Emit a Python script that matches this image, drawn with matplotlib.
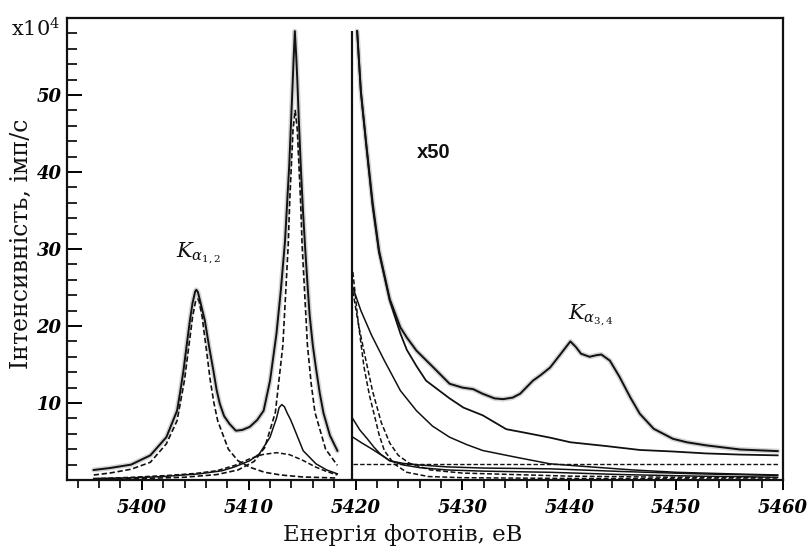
import matplotlib

matplotlib.use("Agg")

import matplotlib.pyplot as plt
from matplotlib.ticker import MultipleLocator, NullFormatter

# Left window: measured counts (x10^4), Ka1,2 region
e_tot_l = [5395.5, 5397.0, 5399.0, 5400.8, 5402.3, 5403.3, 5403.6, 5403.9, 5404.2, 5404.5,
           5404.75, 5405.0, 5405.1, 5405.25, 5405.5, 5405.9, 5406.3, 5406.7, 5407.0, 5407.3,
           5407.7, 5408.2, 5408.8, 5409.4, 5410.1, 5410.8, 5411.4, 5412.0, 5412.6, 5413.0,
           5413.4, 5413.6, 5413.8, 5413.95, 5414.1, 5414.2, 5414.32, 5414.45, 5414.55, 5414.7,
           5414.9, 5415.1, 5415.3, 5415.5, 5415.7, 5416.0, 5416.3, 5416.65, 5417.0, 5417.6,
           5418.3]
i_tot_l = [1.3, 1.55, 2.0, 3.2, 5.56, 9.0, 11.5, 14.2, 17.5, 20.7,
           23.0, 24.5, 24.7, 24.4, 23.0, 20.7, 17.3, 14.2, 11.7, 9.9,
           8.3, 7.3, 6.4, 6.5, 6.9, 7.8, 9.0, 12.9, 19.0, 24.5,
           31.0, 36.0, 41.0, 46.0, 51.0, 54.5, 58.3, 55.0, 52.0, 46.5,
           40.0, 34.5, 29.8, 25.5, 21.5, 17.5, 14.5, 11.3, 8.7, 5.8,
           3.8]

e_ka2 = [5395.5, 5397.0, 5399.0, 5400.8, 5402.3, 5403.3, 5404.0, 5404.3, 5404.6, 5404.75,
         5405.05, 5405.2, 5405.35, 5405.65, 5405.8, 5406.1, 5406.4, 5406.75, 5407.1, 5408.1,
         5409.0, 5410.1, 5411.5, 5413.0, 5415.0, 5418.3]
i_ka2 = [0.65, 0.9, 1.4, 2.3, 4.7, 7.7, 13.0, 16.3, 19.5, 21.2,
         23.3, 23.5, 23.3, 21.2, 19.5, 16.3, 13.0, 10.0, 7.7, 4.0,
         2.5, 1.66, 1.0, 0.65, 0.4, 0.25]

e_ka1 = [5395.5, 5400.0, 5404.0, 5407.0, 5409.0, 5410.5, 5411.5, 5412.5, 5413.2, 5413.45,
         5413.7, 5413.85, 5414.0, 5414.15, 5414.35, 5414.55, 5414.7, 5414.85, 5415.0, 5415.25,
         5415.5, 5415.85, 5416.2, 5417.2, 5418.3]
i_ka1 = [0.11, 0.19, 0.36, 0.7, 1.3, 2.4, 4.2, 8.8, 17.5, 24.0,
         30.5, 36.5, 41.0, 45.5, 48.0, 45.5, 41.0, 36.5, 30.5, 24.0,
         17.5, 12.5, 8.8, 4.0, 1.9]

e_c3 = [5395.5, 5399.0, 5402.0, 5405.4, 5407.5, 5408.6, 5410.1, 5411.0, 5412.0, 5412.3,
        5412.6, 5412.85, 5413.1, 5413.35, 5413.6, 5413.9, 5414.2, 5415.1, 5416.3, 5417.3,
        5418.3]
i_c3 = [0.2, 0.28, 0.45, 0.8, 1.2, 1.66, 2.5, 3.4, 5.56, 6.8,
        8.0, 9.4, 9.8, 9.5, 8.7, 7.9, 6.9, 3.8, 2.1, 1.3,
        0.8]

e_c4 = [5395.5, 5399.0, 5402.3, 5405.0, 5407.0, 5408.7, 5410.1, 5411.3, 5412.6, 5413.8,
        5415.0, 5416.3, 5417.3, 5418.3]
i_c4 = [0.15, 0.35, 0.58, 0.85, 1.2, 1.9, 2.75, 3.3, 3.55, 3.3,
        2.6, 1.66, 1.1, 0.65]

# Right window: counts x50, Ka3,4 satellites
e_tot_r = [5420.15, 5420.5, 5421.0, 5421.6, 5422.2, 5423.2, 5424.2, 5424.8, 5425.7, 5427.3,
           5428.8, 5430.0, 5431.0, 5431.9, 5433.0, 5433.8, 5434.7, 5435.4, 5436.6, 5437.3,
           5438.2, 5439.1, 5440.1, 5440.6, 5441.1, 5441.9, 5442.5, 5443.0, 5443.8, 5444.7,
           5445.7, 5446.6, 5447.9, 5449.7, 5451.0, 5452.8, 5456.0, 5459.5]
i_tot_r = [58.3, 50.5, 43.7, 36.0, 29.8, 23.5, 19.8, 18.5, 16.8, 14.6,
           12.5, 12.0, 11.8, 11.2, 10.6, 10.5, 10.7, 11.2, 12.9, 13.6,
           14.6, 16.2, 18.0, 17.3, 16.4, 16.0, 16.2, 16.3, 15.5, 13.4,
           10.75, 8.6, 6.65, 5.35, 4.9, 4.5, 3.96, 3.75]

e_tail = [5420.15, 5420.5, 5421.0, 5421.6, 5422.2, 5423.2, 5424.2, 5424.8, 5425.7, 5426.6,
          5428.8, 5430.1, 5431.9, 5434.1, 5436.0, 5438.2, 5440.1, 5443.5, 5446.6, 5449.7,
          5452.8, 5456.0, 5459.5]
i_tail = [58.3, 50.3, 43.5, 35.5, 29.5, 23.3, 19.0, 16.9, 14.8, 12.9,
          10.6, 9.4, 8.4, 6.6, 6.1, 5.5, 4.9, 4.4, 3.9, 3.7,
          3.45, 3.3, 3.2]

e_da = [5419.75, 5420.2, 5420.5, 5420.8, 5421.3, 5421.8, 5422.2, 5422.7, 5423.6, 5424.8,
        5426.8, 5430.0, 5440.0, 5450.0, 5459.5]
i_da = [27.0, 21.1, 17.8, 14.6, 11.0, 8.2, 5.9, 3.8, 2.1, 1.0,
        0.45, 0.3, 0.2, 0.15, 0.12]

e_db = [5419.75, 5420.3, 5420.9, 5421.6, 5422.4, 5423.2, 5424.0, 5425.0, 5427.0, 5430.0,
        5440.0, 5450.0, 5459.5]
i_db = [24.5, 20.0, 16.0, 11.5, 7.5, 4.8, 3.2, 2.2, 1.3, 0.9,
        0.5, 0.35, 0.3]

e_dc = [5419.75, 5420.5, 5421.5, 5422.7, 5424.2, 5425.7, 5427.2, 5428.8, 5430.4, 5431.9,
        5435.0, 5438.2, 5442.0, 5446.0, 5450.0, 5455.0, 5459.5]
i_dc = [25.0, 22.0, 18.8, 15.5, 11.6, 9.0, 7.0, 5.56, 4.6, 3.83,
        2.96, 2.1, 1.7, 1.3, 1.0, 0.8, 0.65]

e_s3 = [5419.75, 5420.4, 5421.1, 5421.7, 5422.3, 5423.2, 5424.5, 5426.0, 5428.6, 5432.0,
        5438.2, 5445.0, 5452.0, 5459.5]
i_s3 = [7.95, 6.5, 5.35, 4.3, 3.4, 2.5, 2.15, 1.95, 1.7, 1.55,
        1.45, 1.1, 0.8, 0.6]

e_s4 = [5419.75, 5420.6, 5421.5, 5422.4, 5423.2, 5424.5, 5426.0, 5428.6, 5432.0, 5438.2,
        5445.0, 5452.0, 5459.5]
i_s4 = [5.56, 4.8, 4.05, 3.25, 2.5, 1.95, 1.6, 1.3, 1.15, 1.0,
        0.7, 0.5, 0.36]

e_flat = [5419.75, 5459.5]
i_flat = [2.1, 2.1]

split_e = 5419.7
split_top = 58.3

x_lim = (5393, 5460)
y_lim = (0, 60)
y_labels = [10, 20, 30, 40, 50]

INK = "#111111"
DASH = (0, (3.2, 1.6))


def main():
    plt.rcParams["font.family"] = ["DejaVu Serif"]
    plt.rcParams["mathtext.fontset"] = "dejavuserif"

    fig = plt.figure(figsize=(8.1, 5.47), dpi=100)
    ax = fig.add_axes([0.0827, 0.1225, 0.8840, 0.8445])

    # measured points behind the totals
    for e, i in [(e_tot_l, i_tot_l), (e_tot_r, i_tot_r)]:
        ax.plot(e, i, color="#d4d4d4", lw=3.6, solid_capstyle="round", zorder=1)
        ax.plot(e, i, color=INK, lw=1.4, zorder=3)

    ax.plot(e_ka2, i_ka2, color=INK, lw=1.2, ls=DASH, zorder=2)
    ax.plot(e_ka1, i_ka1, color=INK, lw=1.2, ls=DASH, zorder=2)
    ax.plot(e_c3, i_c3, color=INK, lw=1.1, zorder=2)
    ax.plot(e_c4, i_c4, color=INK, lw=1.1, ls=DASH, zorder=2)

    ax.plot(e_tail, i_tail, color=INK, lw=1.3, zorder=2)
    ax.plot(e_da, i_da, color=INK, lw=1.1, ls=DASH, zorder=2)
    ax.plot(e_db, i_db, color=INK, lw=1.1, ls=DASH, zorder=2)
    ax.plot(e_dc, i_dc, color=INK, lw=1.1, zorder=2)
    ax.plot(e_s3, i_s3, color=INK, lw=1.1, zorder=2)
    ax.plot(e_s4, i_s4, color=INK, lw=1.1, zorder=2)
    ax.plot(e_flat, i_flat, color=INK, lw=1.0, ls=DASH, zorder=2)

    ax.vlines(split_e, 0, split_top, color=INK, lw=1.6, zorder=3)

    ax.set_xlim(*x_lim)
    ax.set_ylim(*y_lim)

    for sp in ax.spines.values():
        sp.set_linewidth(1.6)
        sp.set_color(INK)

    ax.xaxis.set_major_locator(MultipleLocator(10))
    ax.xaxis.set_minor_locator(MultipleLocator(2))
    ax.set_yticks(y_labels)
    ax.yaxis.set_minor_locator(MultipleLocator(2))
    ax.yaxis.set_minor_formatter(NullFormatter())

    ax.tick_params(axis="x", which="major", direction="out", length=7.5, width=1.4,
                   pad=6, labelsize=13)
    ax.tick_params(axis="x", which="minor", direction="out", length=6, width=1.2)
    ax.tick_params(axis="y", which="major", direction="in", length=11, width=1.4,
                   pad=4, labelsize=13)
    ax.tick_params(axis="y", which="minor", direction="in", length=7, width=1.2)
    for lab in ax.get_xticklabels() + ax.get_yticklabels():
        lab.set_fontstyle("italic")
        lab.set_fontweight("bold")

    ax.text(5403.2, 29.0, r"$K_{\alpha_{1,2}}$", fontsize=15, color=INK,
            ha="left", va="baseline")
    ax.text(5439.9, 20.9, r"$K_{\alpha_{3,4}}$", fontsize=15, color=INK,
            ha="left", va="baseline")
    ax.text(5425.7, 42.6, "x50", fontsize=14.5, fontweight="bold", color=INK,
            family="Liberation Sans", ha="left", va="center")

    fig.text(0.014, 0.948, r"x10$^4$", fontsize=15, color=INK, ha="left", va="center")
    fig.text(0.027, 0.554, "Інтенсивність, імп/с", fontsize=17, color=INK,
             rotation=90, ha="center", va="center")
    fig.text(0.497, 0.022, "Енергія фотонів, еВ", fontsize=16.5, color=INK,
             ha="center", va="center")

    fig.savefig("out.png", dpi=100)


if __name__ == '__main__':
    main()
